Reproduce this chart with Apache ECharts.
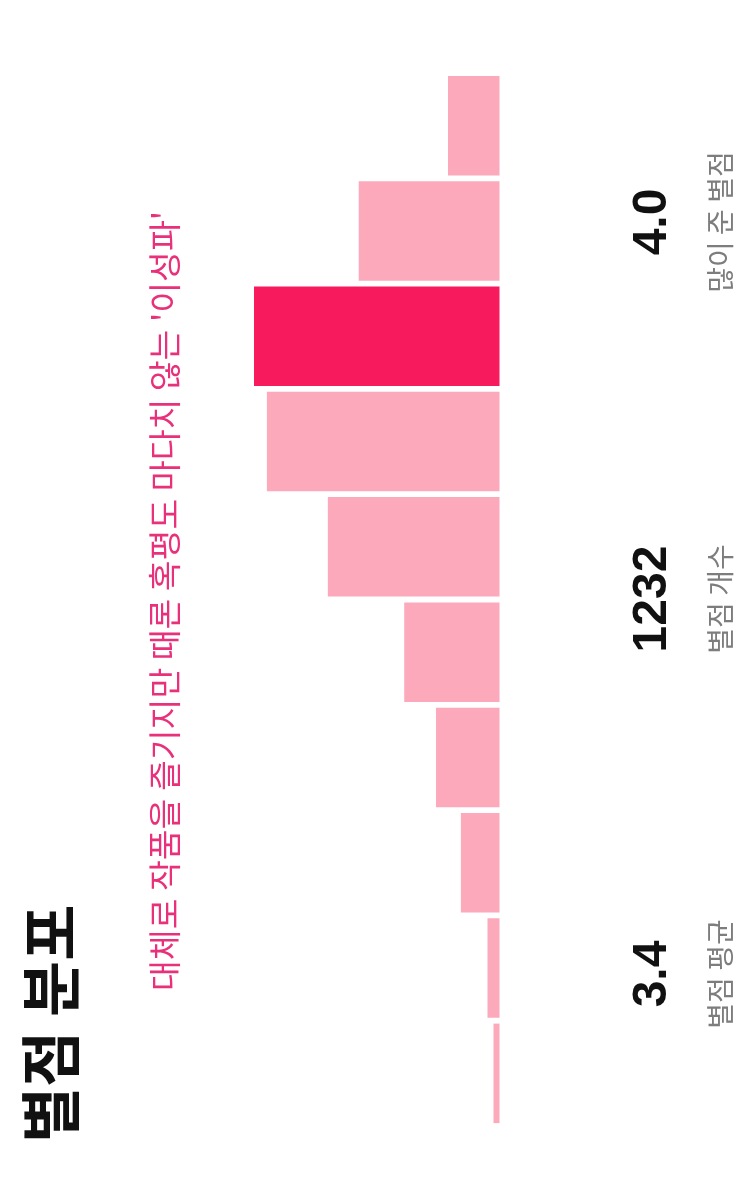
<!DOCTYPE html>
<html>
<head>
<meta charset="utf-8">
<script src="https://cdn.jsdelivr.net/npm/echarts@6/dist/echarts.min.js"></script>
<style>
  html, body { margin: 0; padding: 0; background: #ffffff; }
  #chart { width: 750px; height: 1200px; }
</style>
</head>
<body>
<div id="chart"></div>
<script>
var ratings = ['0.5', '1.0', '1.5', '2.0', '2.5', '3.0', '3.5', '4.0', '4.5', '5.0'];
var counts = [7, 14, 45, 74, 111, 200, 271, 286, 164, 60];
var titleText = '별점 분포';
var subtitleText = "대체로 작품을 즐기지만 때론 혹평도 마다치 않는 '이성파'";
var statLabels = ['별점 평균', '별점 개수', '많이 준 별점'];

var total = counts.reduce(function (a, b) { return a + b; }, 0);
var weighted = counts.reduce(function (a, c, i) { return a + c * parseFloat(ratings[i]); }, 0);
var maxIdx = counts.indexOf(Math.max.apply(null, counts));
var statValues = [(Math.floor(weighted / total * 10) / 10).toFixed(1), String(total), ratings[maxIdx]];

var KR = '"Noto Sans CJK KR", "Noto Sans", sans-serif';
var NUM = '"Liberation Sans", Arial, sans-serif';
var ROT = Math.PI / 2;

var chart = echarts.init(document.getElementById('chart'), null, { renderer: 'canvas' });

var statCenters = [974, 599, 222];
var graphics = [
  { type: 'text', x: 51, y: 1143, rotation: ROT,
    style: { text: titleText, font: 'bold 61px ' + KR, fill: '#111111', align: 'left', verticalAlign: 'middle' } },
  { type: 'text', x: 164, y: 991, rotation: ROT,
    style: { text: subtitleText, font: '33.5px ' + KR, fill: '#e8317a', align: 'left', verticalAlign: 'middle' } }
];
statCenters.forEach(function (cy, i) {
  graphics.push({ type: 'text', x: 653, y: cy, rotation: ROT,
    style: { text: statValues[i], font: 'bold 48px ' + NUM, fill: '#111111', align: 'center', verticalAlign: 'middle' } });
  graphics.push({ type: 'text', x: 720, y: cy, rotation: ROT,
    style: { text: statLabels[i], font: '28px ' + KR, fill: '#7d7d7d', align: 'center', verticalAlign: 'middle' } });
});

chart.setOption({
  animation: false,
  backgroundColor: '#ffffff',
  grid: { left: 242, right: 250.5, top: 73, bottom: 74 },
  xAxis: {
    type: 'value', inverse: true, min: 0, max: 300,
    show: false
  },
  yAxis: {
    type: 'category', data: ratings, show: false
  },
  series: [{
    type: 'bar',
    barCategoryGap: '5.5%',
    data: counts.map(function (v, i) {
      return { value: v, itemStyle: { color: i === maxIdx ? '#f71a5c' : '#fcaabb' } };
    })
  }],
  graphic: graphics
});
</script>
</body>
</html>
